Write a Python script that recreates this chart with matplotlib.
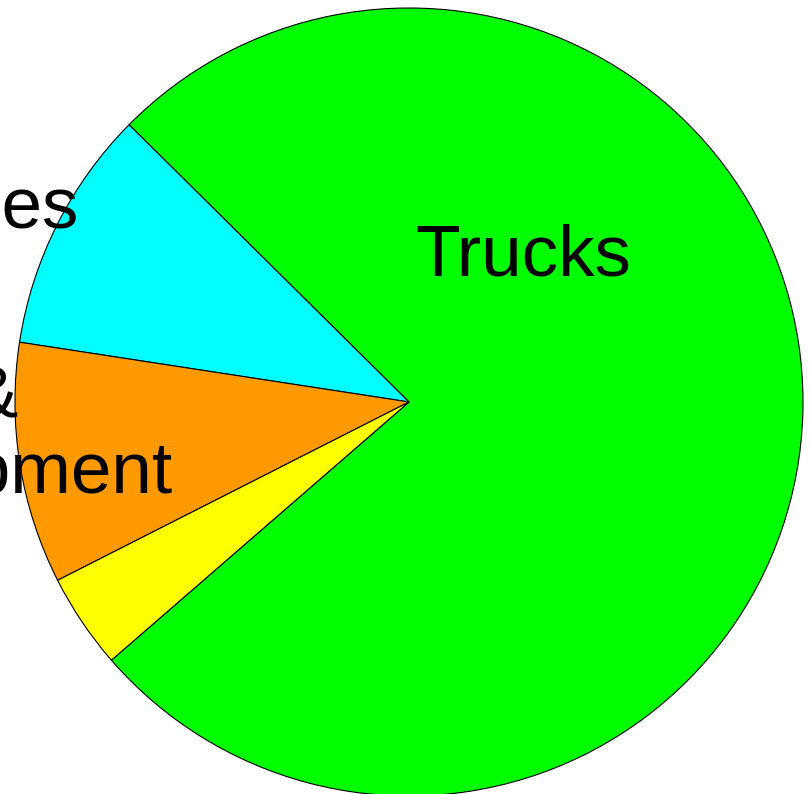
import matplotlib
matplotlib.use("Agg")
import matplotlib.pyplot as plt

# slice data, counter-clockwise from the lower left
categories = ["Trucks", "Buses", "Rail &\nEquipment", "Other"]
shares = [76.2, 10.0, 9.9, 3.9]
colors = ["#00ff00", "#00ffff", "#ff9900", "#ffff00"]

# where each label sits (pie radius = 1); the yellow one has no visible label
label_pos = {
    "Trucks": (0.289, 0.322, "center"),
    "Buses": (-0.840, 0.4416, "right"),
    "Rail &\nEquipment": (-0.601, -0.231, "right"),
}

plt.rcParams['font.family'] = ['Liberation Sans', 'DejaVu Sans']

fig = plt.figure(figsize=(8.11, 7.94), dpi=100)
ax = fig.add_axes([0, 0, 1, 1])
ax.pie(shares, colors=colors, startangle=220.95, counterclock=True,
       wedgeprops=dict(edgecolor="black", linewidth=0.8))

for name in categories:
    if name not in label_pos:
        continue
    x, y, ha = label_pos[name]
    ax.text(x, y, name, ha=ha, va="baseline", multialignment="left",
            fontsize=52.5, linespacing=1.19, color="black")

ax.set_aspect("auto")
ax.set_xlim(-1.038, 1.0203)
ax.set_ylim(-0.995, 1.0203)
ax.axis("off")

fig.savefig("out.png", dpi=100)
